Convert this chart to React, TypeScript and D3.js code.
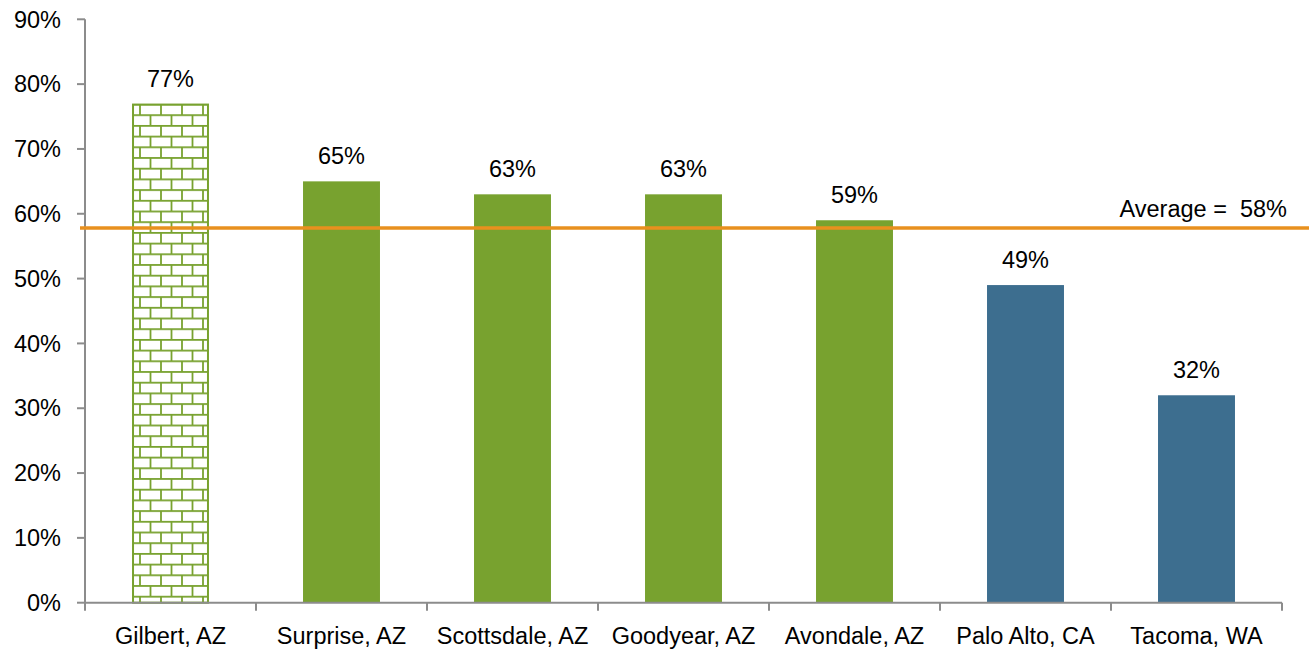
import React from "react";
import * as d3 from "d3";

const categories = ["Gilbert, AZ", "Surprise, AZ", "Scottsdale, AZ", "Goodyear, AZ", "Avondale, AZ", "Palo Alto, CA", "Tacoma, WA"];
const values = [77, 65, 63, 63, 59, 49, 32];
const fills = ["pattern", "green", "green", "green", "green", "blue", "blue"];
const yTicks = [0, 10, 20, 30, 40, 50, 60, 70, 80, 90];
const averageValue = 57.8;
const averageLabel = "Average =  58%";

const W = 1309, H = 652;
const left = 85, right = 1282, top = 19.3, bottom = 602.7;
const FONT = "'Liberation Sans', Arial, sans-serif";
const FS = 23.5;
const GREEN = "#78A22F";
const BLUE = "#3D6E8F";
const AXIS = "#8C8C8C";

export default function App() {
  const x = d3.scaleBand<string>().domain(categories).range([left, right]).paddingInner(0.55).paddingOuter(0.275);
  const xb = d3.scaleBand<string>().domain(categories).range([left, right]).padding(0);
  const y = d3.scaleLinear().domain([0, 90]).range([bottom, top]);
  const bw = x.bandwidth();
  return (
    <svg width={W} height={H} style={{ position: "absolute", left: 0, top: 0, background: "#fff" }}>
      <defs>
        <pattern id="brick" patternUnits="userSpaceOnUse" width={21} height={21.4} x={135} y={y(77)}>
          <rect width={21} height={21.4} fill="#fff" />
          <line x1={0} x2={21} y1={0.9} y2={0.9} stroke={GREEN} strokeWidth={1.8} />
          <line x1={0} x2={21} y1={11.6} y2={11.6} stroke={GREEN} strokeWidth={1.8} />
          <line x1={5} x2={5} y1={0.9} y2={11.6} stroke={GREEN} strokeWidth={1.8} />
          <line x1={15.5} x2={15.5} y1={11.6} y2={21.4} stroke={GREEN} strokeWidth={1.8} />
          <line x1={15.5} x2={15.5} y1={0} y2={0.9} stroke={GREEN} strokeWidth={1.8} />
        </pattern>
      </defs>
      {/* y axis */}
      <line x1={left} x2={left} y1={top} y2={bottom} stroke={AXIS} strokeWidth={2} />
      {yTicks.map((t) => (
        <g key={t}>
          <line x1={left - 8} x2={left} y1={y(t)} y2={y(t)} stroke={AXIS} strokeWidth={2} />
          <text x={left - 24} y={y(t)} dy="0.35em" textAnchor="end" fontFamily={FONT} fontSize={FS} fill="#000">
            {t}%
          </text>
        </g>
      ))}
      {/* bars */}
      {categories.map((c, i) => {
        const v = values[i];
        const f = fills[i];
        const bx = x(c)!;
        const by = y(v);
        return (
          <g key={c}>
            {f === "pattern" ? (
              <rect x={bx + 1} y={by + 1} width={bw - 2} height={bottom - by - 1} fill="url(#brick)" stroke={GREEN} strokeWidth={2} />
            ) : (
              <rect x={bx} y={by} width={bw} height={bottom - by} fill={f === "green" ? GREEN : BLUE} />
            )}
            <text x={bx + bw / 2} y={by - 17} textAnchor="middle" fontFamily={FONT} fontSize={FS} fill="#000">
              {v}%
            </text>
          </g>
        );
      })}
      {/* x axis */}
      <line x1={left} x2={right} y1={bottom} y2={bottom} stroke={AXIS} strokeWidth={2} />
      {categories.map((c) => (
        <line key={c + "t"} x1={xb(c)!} x2={xb(c)!} y1={bottom} y2={bottom + 8} stroke={AXIS} strokeWidth={2} />
      ))}
      <line x1={right} x2={right} y1={bottom} y2={bottom + 8} stroke={AXIS} strokeWidth={2} />
      {categories.map((c) => (
        <text key={c + "l"} x={xb(c)! + xb.bandwidth() / 2} y={644} textAnchor="middle" fontFamily={FONT} fontSize={FS} fill="#000">
          {c}
        </text>
      ))}
      {/* average line */}
      <line x1={80} x2={W} y1={y(averageValue)} y2={y(averageValue)} stroke="#E8901E" strokeWidth={3.5} />
      <text x={1287} y={217} textAnchor="end" fontFamily={FONT} fontSize={FS} fill="#000" style={{ whiteSpace: "pre" }}>
        {averageLabel}
      </text>
    </svg>
  );
}
